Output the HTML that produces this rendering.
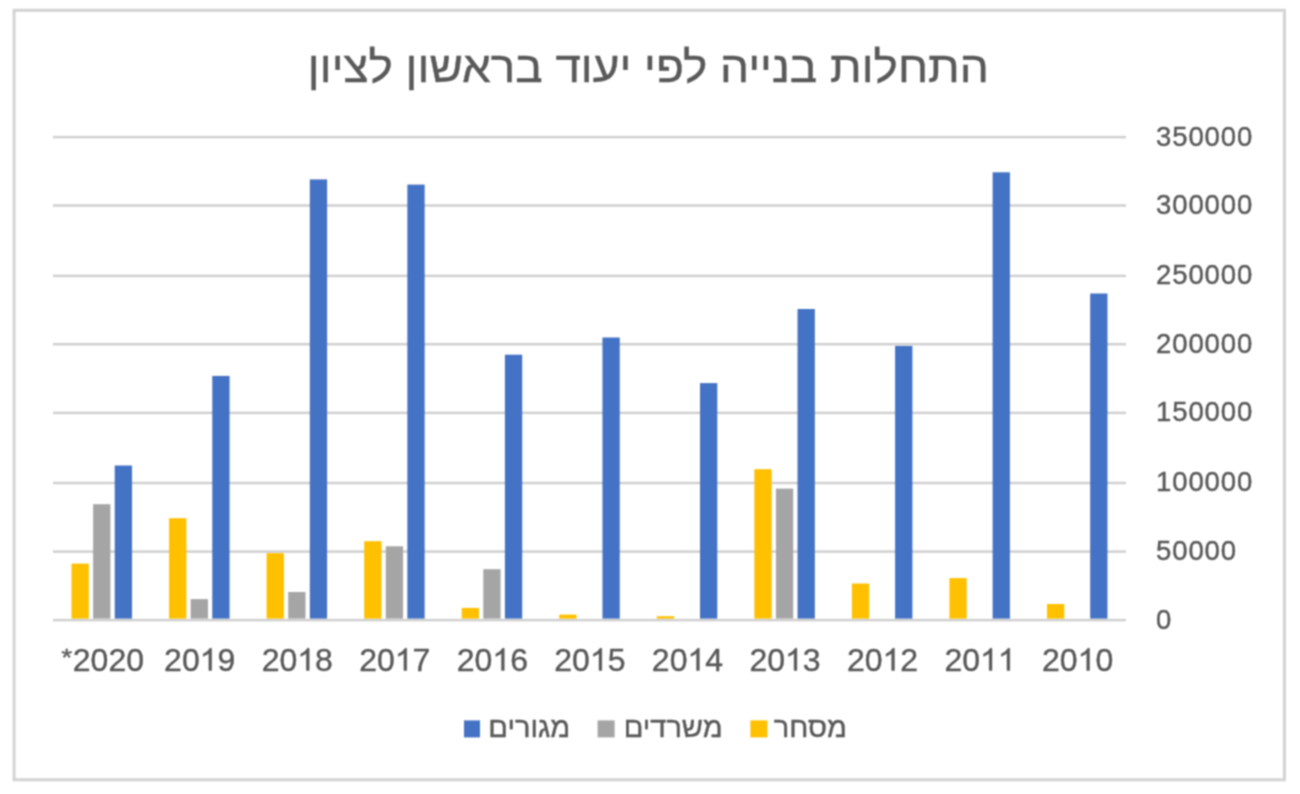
<!DOCTYPE html><html><head><meta charset="utf-8"><style>html,body{margin:0;padding:0;background:#fff;width:1300px;height:794px;overflow:hidden}svg{display:block}text{font-family:"Liberation Sans",sans-serif;stroke:#595959;stroke-width:0.4px}</style></head><body>
<svg width="1300" height="794" viewBox="0 0 1300 794">
<defs><filter id="bl" color-interpolation-filters="sRGB" x="0" y="0" width="1300" height="794" filterUnits="userSpaceOnUse"><feConvolveMatrix order="3" kernelMatrix="1 2 1 2 4 2 1 2 1" divisor="16" edgeMode="duplicate"/></filter></defs>
<rect x="0" y="0" width="1300" height="794" fill="#fff"/>
<g filter="url(#bl)">
<rect x="14.1" y="10.3" width="1270.3" height="769.5" fill="#fff" stroke="#d3d3d3" stroke-width="3"/>
<text x="648.35" y="82.2" font-size="44" fill="#595959" text-anchor="middle" textLength="681" lengthAdjust="spacingAndGlyphs">התחלות בנייה לפי יעוד בראשון לציון</text>
<rect x="53.0" y="135.85" width="1073.0" height="2.5" fill="#d0d0d0"/>
<rect x="53.0" y="204.25" width="1073.0" height="2.5" fill="#d0d0d0"/>
<rect x="53.0" y="274.65" width="1073.0" height="2.5" fill="#d0d0d0"/>
<rect x="53.0" y="342.95" width="1073.0" height="2.5" fill="#d0d0d0"/>
<rect x="53.0" y="411.65" width="1073.0" height="2.5" fill="#d0d0d0"/>
<rect x="53.0" y="481.75" width="1073.0" height="2.5" fill="#d0d0d0"/>
<rect x="53.0" y="550.35" width="1073.0" height="2.5" fill="#d0d0d0"/>
<rect x="53.0" y="618.85" width="1073.0" height="2.5" fill="#d0d0d0"/>
<rect x="71.52" y="563.6" width="17.3" height="55.0" fill="#FFC000"/>
<rect x="93.12" y="504.2" width="17.3" height="114.4" fill="#A5A5A5"/>
<rect x="114.72" y="465.5" width="17.3" height="153.1" fill="#4472C4"/>
<rect x="169.07" y="518.2" width="17.3" height="100.4" fill="#FFC000"/>
<rect x="190.67" y="599.1" width="17.3" height="19.5" fill="#A5A5A5"/>
<rect x="212.27" y="375.9" width="17.3" height="242.7" fill="#4472C4"/>
<rect x="266.61" y="553.2" width="17.3" height="65.4" fill="#FFC000"/>
<rect x="288.21" y="592.0" width="17.3" height="26.6" fill="#A5A5A5"/>
<rect x="309.81" y="179.4" width="17.3" height="439.2" fill="#4472C4"/>
<rect x="364.16" y="541.2" width="17.3" height="77.4" fill="#FFC000"/>
<rect x="385.76" y="546.3" width="17.3" height="72.3" fill="#A5A5A5"/>
<rect x="407.36" y="184.6" width="17.3" height="434.0" fill="#4472C4"/>
<rect x="461.70" y="607.9" width="17.3" height="10.7" fill="#FFC000"/>
<rect x="483.30" y="569.2" width="17.3" height="49.4" fill="#A5A5A5"/>
<rect x="504.90" y="354.7" width="17.3" height="263.9" fill="#4472C4"/>
<rect x="559.25" y="614.6" width="17.3" height="4.0" fill="#FFC000"/>
<rect x="602.45" y="337.5" width="17.3" height="281.1" fill="#4472C4"/>
<rect x="656.80" y="616.2" width="17.3" height="2.4" fill="#FFC000"/>
<rect x="700.00" y="383.1" width="17.3" height="235.5" fill="#4472C4"/>
<rect x="754.34" y="469.2" width="17.3" height="149.4" fill="#FFC000"/>
<rect x="775.94" y="488.6" width="17.3" height="130.0" fill="#A5A5A5"/>
<rect x="797.54" y="309.0" width="17.3" height="309.6" fill="#4472C4"/>
<rect x="851.89" y="583.5" width="17.3" height="35.1" fill="#FFC000"/>
<rect x="895.09" y="345.9" width="17.3" height="272.7" fill="#4472C4"/>
<rect x="949.43" y="578.1" width="17.3" height="40.5" fill="#FFC000"/>
<rect x="992.63" y="172.3" width="17.3" height="446.3" fill="#4472C4"/>
<rect x="1046.98" y="604.0" width="17.3" height="14.6" fill="#FFC000"/>
<rect x="1090.18" y="293.5" width="17.3" height="325.1" fill="#4472C4"/>
<text x="1156.0" y="145.55" font-size="27.5" letter-spacing="0.9" fill="#595959">350000</text>
<text x="1156.0" y="213.95" font-size="27.5" letter-spacing="0.9" fill="#595959">300000</text>
<text x="1156.0" y="284.35" font-size="27.5" letter-spacing="0.9" fill="#595959">250000</text>
<text x="1156.0" y="352.65" font-size="27.5" letter-spacing="0.9" fill="#595959">200000</text>
<text x="1156.0" y="421.35" font-size="27.5" letter-spacing="0.9" fill="#595959">150000</text>
<text x="1156.0" y="491.45" font-size="27.5" letter-spacing="0.9" fill="#595959">100000</text>
<text x="1156.0" y="560.05" font-size="27.5" letter-spacing="0.9" fill="#595959">50000</text>
<text x="1156.0" y="628.55" font-size="27.5" letter-spacing="0.9" fill="#595959">0</text>
<text x="72.81" y="670.5" font-size="32" fill="#595959">2020</text>
<text transform="translate(61.3,665.6) scale(0.88,0.74)" x="0" y="0" font-size="32" fill="#595959">*</text>
<text x="164.12" y="670.5" font-size="32" fill="#595959">20 9</text>
<path d="M211.64,670.50 L208.83,670.50 L208.83,653.14 Q207.81,654.08 206.16,655.02 Q204.52,655.96 203.20,656.42 L203.20,653.79 Q205.56,652.72 207.30,651.21 Q209.05,649.70 209.83,648.31 L211.64,648.31 Z" fill="#595959" stroke="#595959" stroke-width="0.4"/>
<text x="261.67" y="670.5" font-size="32" fill="#595959">20 8</text>
<path d="M309.19,670.50 L306.37,670.50 L306.37,653.14 Q305.36,654.08 303.71,655.02 Q302.06,655.96 300.75,656.42 L300.75,653.79 Q303.11,652.72 304.85,651.21 Q306.59,649.70 307.37,648.31 L309.19,648.31 Z" fill="#595959" stroke="#595959" stroke-width="0.4"/>
<text x="359.22" y="670.5" font-size="32" fill="#595959">20 7</text>
<path d="M406.73,670.50 L403.92,670.50 L403.92,653.14 Q402.90,654.08 401.25,655.02 Q399.61,655.96 398.29,656.42 L398.29,653.79 Q400.65,652.72 402.40,651.21 Q404.14,649.70 404.92,648.31 L406.73,648.31 Z" fill="#595959" stroke="#595959" stroke-width="0.4"/>
<text x="456.76" y="670.5" font-size="32" fill="#595959">20 6</text>
<path d="M504.28,670.50 L501.46,670.50 L501.46,653.14 Q500.45,654.08 498.80,655.02 Q497.15,655.96 495.84,656.42 L495.84,653.79 Q498.20,652.72 499.94,651.21 Q501.68,649.70 502.46,648.31 L504.28,648.31 Z" fill="#595959" stroke="#595959" stroke-width="0.4"/>
<text x="554.31" y="670.5" font-size="32" fill="#595959">20 5</text>
<path d="M601.82,670.50 L599.01,670.50 L599.01,653.14 Q597.99,654.08 596.35,655.02 Q594.70,655.96 593.38,656.42 L593.38,653.79 Q595.74,652.72 597.49,651.21 Q599.23,649.70 600.01,648.31 L601.82,648.31 Z" fill="#595959" stroke="#595959" stroke-width="0.4"/>
<text x="651.85" y="670.5" font-size="32" fill="#595959">20 4</text>
<path d="M699.37,670.50 L696.55,670.50 L696.55,653.14 Q695.54,654.08 693.89,655.02 Q692.24,655.96 690.93,656.42 L690.93,653.79 Q693.29,652.72 695.03,651.21 Q696.77,649.70 697.55,648.31 L699.37,648.31 Z" fill="#595959" stroke="#595959" stroke-width="0.4"/>
<text x="749.40" y="670.5" font-size="32" fill="#595959">20 3</text>
<path d="M796.91,670.50 L794.10,670.50 L794.10,653.14 Q793.08,654.08 791.44,655.02 Q789.79,655.96 788.48,656.42 L788.48,653.79 Q790.83,652.72 792.58,651.21 Q794.32,649.70 795.10,648.31 L796.91,648.31 Z" fill="#595959" stroke="#595959" stroke-width="0.4"/>
<text x="846.94" y="670.5" font-size="32" fill="#595959">20 2</text>
<path d="M894.46,670.50 L891.65,670.50 L891.65,653.14 Q890.63,654.08 888.98,655.02 Q887.33,655.96 886.02,656.42 L886.02,653.79 Q888.38,652.72 890.12,651.21 Q891.86,649.70 892.65,648.31 L894.46,648.31 Z" fill="#595959" stroke="#595959" stroke-width="0.4"/>
<text x="944.49" y="670.5" font-size="32" fill="#595959">20  </text>
<path d="M992.00,670.50 L989.19,670.50 L989.19,653.14 Q988.18,654.08 986.53,655.02 Q984.88,655.96 983.57,656.42 L983.57,653.79 Q985.93,652.72 987.67,651.21 Q989.41,649.70 990.19,648.31 L992.00,648.31 Z" fill="#595959" stroke="#595959" stroke-width="0.4"/>
<path d="M1009.80,670.50 L1006.99,670.50 L1006.99,653.14 Q1005.97,654.08 1004.32,655.02 Q1002.68,655.96 1001.36,656.42 L1001.36,653.79 Q1003.72,652.72 1005.46,651.21 Q1007.21,649.70 1007.99,648.31 L1009.80,648.31 Z" fill="#595959" stroke="#595959" stroke-width="0.4"/>
<text x="1042.03" y="670.5" font-size="32" fill="#595959">20 0</text>
<path d="M1089.55,670.50 L1086.74,670.50 L1086.74,653.14 Q1085.72,654.08 1084.07,655.02 Q1082.42,655.96 1081.11,656.42 L1081.11,653.79 Q1083.47,652.72 1085.21,651.21 Q1086.96,649.70 1087.74,648.31 L1089.55,648.31 Z" fill="#595959" stroke="#595959" stroke-width="0.4"/>
<rect x="464" y="720.4" width="16" height="17" fill="#4472C4"/>
<text x="529.25" y="737.3" font-size="29" fill="#595959" text-anchor="middle">מגורים</text>
<rect x="597.6" y="720.4" width="17" height="17" fill="#A5A5A5"/>
<text x="673.2" y="737.3" font-size="29" fill="#595959" text-anchor="middle">משרדים</text>
<rect x="750.4" y="720.4" width="17" height="17" fill="#FFC000"/>
<text x="810.4" y="737.3" font-size="29" fill="#595959" text-anchor="middle">מסחר</text>
</g></svg></body></html>
